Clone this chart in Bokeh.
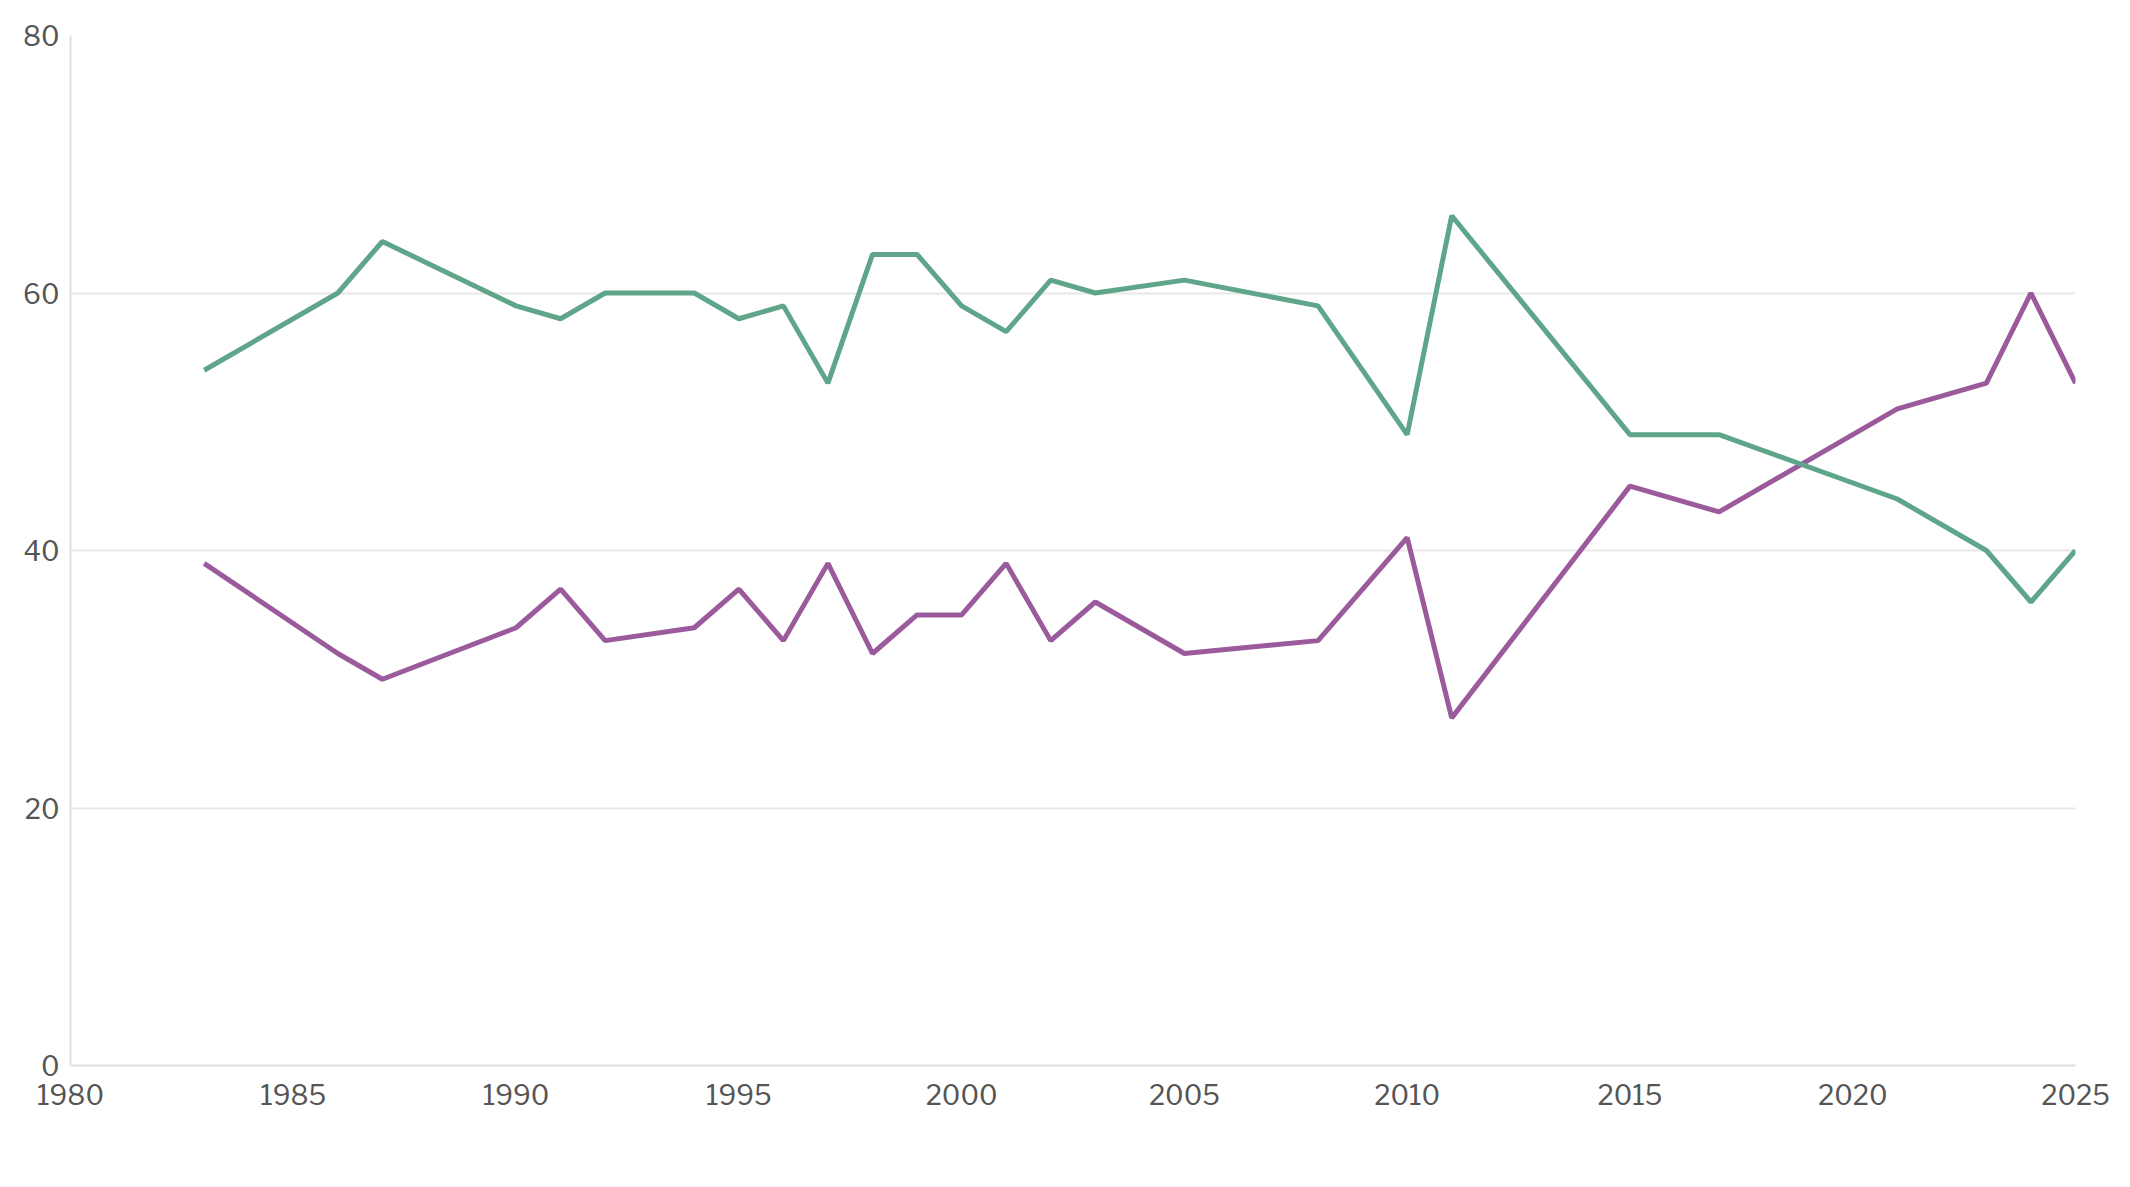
from bokeh.plotting import figure
from bokeh.models import Legend, LegendItem, Range1d, FixedTicker
from bokeh.embed import file_html
from bokeh.resources import INLINE

years = [1983,1986,1987,1990,1991,1992,1994,1995,1996,1997,1998,1999,2000,2001,2002,2003,2005,2008,2010,2011,2015,2017,2021,2023,2024,2025]
change = [39,32,30,34,37,33,34,37,33,39,32,35,35,39,33,36,32,33,41,27,45,43,51,53,60,53]
keep = [54,60,64,59,58,60,60,58,59,53,63,63,59,57,61,60,61,59,49,66,49,49,44,40,36,40]
purple = "#9b5a9b"
green = "#5fa58a"

p = figure(width=2110, height=1165, output_backend="svg", toolbar_location=None,
           x_range=Range1d(1980, 2025), y_range=Range1d(0, 80),
           min_border_left=70, min_border_right=35, min_border_top=35, min_border_bottom=100)
p.outline_line_color = None
p.xgrid.grid_line_color = None
p.ygrid.grid_line_color = "#e8e8e8"
p.ygrid.grid_line_width = 2
p.xaxis.ticker = FixedTicker(ticks=list(range(1980, 2026, 5)))
p.yaxis.ticker = FixedTicker(ticks=[0, 20, 40, 60, 80])
for ax in (p.xaxis, p.yaxis):
    ax.major_label_text_font = "Libre Franklin, Roboto"
    ax.major_label_text_font_size = "27px"
    ax.major_label_text_color = "#555555"
    ax.axis_line_color = "#e0e0e0"
    ax.axis_line_width = 2
    ax.major_tick_line_color = None
    ax.minor_tick_line_color = None
p.xaxis.major_label_standoff = 12
p.line(years, change, line_color=purple, line_width=5)
p.line(years, keep, line_color=green, line_width=5)
s1 = p.scatter([float("nan")], [float("nan")], marker="square", size=22, fill_color=purple, line_color=purple)
s2 = p.scatter([float("nan")], [float("nan")], marker="square", size=22, fill_color=green, line_color=green)
legend = Legend(items=[LegendItem(label="That we should change the voting system for the House of Commons", renderers=[s1]),
                       LegendItem(label="Keep it as it is", renderers=[s2])],
                orientation="horizontal", location=(385, -110),
                label_text_font="Roboto", label_text_font_size="28px", label_text_color="#444444",
                glyph_width=22, glyph_height=26, spacing=15, label_standoff=4,
                border_line_color=None, background_fill_alpha=0, padding=0, margin=0)
p.add_layout(legend, "center")
open("out.html", "w").write(file_html(p, INLINE))
